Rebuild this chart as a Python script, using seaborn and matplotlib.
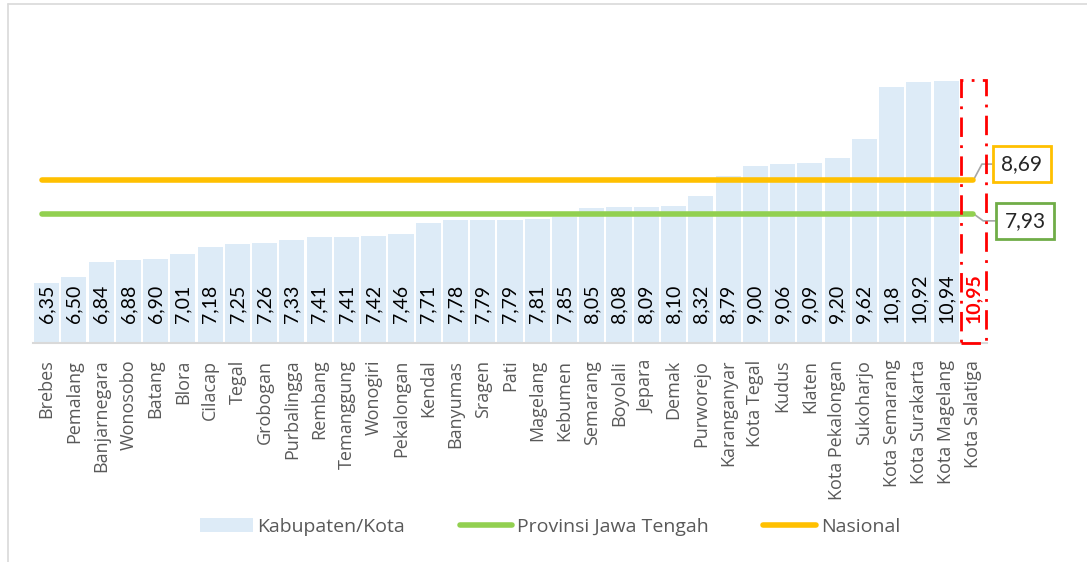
import matplotlib
matplotlib.use("Agg")
import matplotlib.pyplot as plt
from matplotlib.lines import Line2D
from matplotlib.patches import Patch, Rectangle
import numpy as np
import pandas as pd
import seaborn as sns

regions = ["Brebes", "Pemalang", "Banjarnegara", "Wonosobo", "Batang", "Blora",
           "Cilacap", "Tegal", "Grobogan", "Purbalingga", "Rembang", "Temanggung",
           "Wonogiri", "Pekalongan", "Kendal", "Banyumas", "Sragen", "Pati",
           "Magelang", "Kebumen", "Semarang", "Boyolali", "Jepara", "Demak",
           "Purworejo", "Karanganyar", "Kota Tegal", "Kudus", "Klaten",
           "Kota Pekalongan", "Sukoharjo", "Kota Semarang", "Kota Surakarta",
           "Kota Magelang", "Kota Salatiga"]
values = [6.35, 6.50, 6.84, 6.88, 6.90, 7.01, 7.18, 7.25, 7.26, 7.33, 7.41, 7.41,
          7.42, 7.46, 7.71, 7.78, 7.79, 7.79, 7.81, 7.85, 8.05, 8.08, 8.09, 8.10,
          8.32, 8.79, 9.00, 9.06, 9.09, 9.20, 9.62, 10.8, 10.92, 10.94, 10.95]
value_labels = ["6,35", "6,50", "6,84", "6,88", "6,90", "7,01", "7,18", "7,25",
                "7,26", "7,33", "7,41", "7,41", "7,42", "7,46", "7,71", "7,78",
                "7,79", "7,79", "7,81", "7,85", "8,05", "8,08", "8,09", "8,10",
                "8,32", "8,79", "9,00", "9,06", "9,09", "9,20", "9,62", "10,8",
                "10,92", "10,94", "10,95"]
highlight = "Kota Salatiga"
provinsi = 7.93
nasional = 8.69

bar_col = "#DDEBF7"
green = "#92D050"
yellow = "#FFC000"
txt_grey = "#595959"

sns.set_style("white")
plt.rcParams["font.family"] = ["Open Sans", "DejaVu Sans"]

df = pd.DataFrame({"wilayah": regions, "nilai": values})

fig = plt.figure(figsize=(10.87, 5.62), dpi=100)
ax = fig.add_axes([33 / 1087, 1 - 343 / 562, 954 / 1087, 278 / 562])

sns.barplot(data=df, x="wilayah", y="nilai", order=regions, color=bar_col,
            saturation=1, width=0.92, ax=ax)
for p in ax.patches:
    p.set_edgecolor("none")
hi = regions.index(highlight)
ax.patches[hi].set_alpha(0)

ax.set_ylim(5, 11.3)
ax.set_xlim(-0.5, len(regions) - 0.5)

# value labels inside the bars
for i, lab in enumerate(value_labels):
    if regions[i] == highlight:
        ax.text(i, 5.45, lab, rotation=90, ha="center", va="bottom",
                fontsize=14, color="red", fontweight="bold", family="Lato")
    else:
        ax.text(i, 5.45, lab, rotation=90, ha="center", va="bottom",
                fontsize=14, color="black", family="Lato")

# red dash-dot box around the highlighted region
ax.add_patch(Rectangle((hi - 0.47, 5), 0.94, values[hi] - 5, fill=False,
                       edgecolor="red", linewidth=2, linestyle=(0, (7, 3, 1, 3)),
                       clip_on=False, zorder=5))

# reference lines
ax.hlines(nasional, -0.17, hi, color=yellow, linewidth=4, capstyle="round", zorder=4)
ax.hlines(provinsi, -0.17, hi, color=green, linewidth=4, capstyle="round", zorder=4)

ax.annotate(f"{nasional:.2f}".replace(".", ","), xy=(hi, nasional),
            xytext=(0.940, 0.708), textcoords="figure fraction",
            ha="center", va="center", fontsize=15, family="Lato",
            bbox=dict(boxstyle="square,pad=0.4", fc="white", ec=yellow, lw=2),
            arrowprops=dict(arrowstyle="-", color="#A6A6A6", lw=1.2, shrinkA=0,
                            shrinkB=0, relpos=(0, 0.5),
                            connectionstyle="angle,angleA=0,angleB=62,rad=0"))
ax.annotate(f"{provinsi:.2f}".replace(".", ","), xy=(hi, provinsi),
            xytext=(0.943, 0.607), textcoords="figure fraction",
            ha="center", va="center", fontsize=15, family="Lato",
            bbox=dict(boxstyle="square,pad=0.4", fc="white", ec="#70AD47", lw=2),
            arrowprops=dict(arrowstyle="-", color="#A6A6A6", lw=1.2, shrinkA=0,
                            shrinkB=0, relpos=(0, 0.5),
                            connectionstyle="angle,angleA=0,angleB=-36,rad=0"))

ax.set_xlabel("")
ax.set_ylabel("")
ax.set_yticks([])
ax.tick_params(axis="x", length=0, pad=12, labelsize=13, labelcolor=txt_grey)
plt.setp(ax.get_xticklabels(), rotation=90, ha="center", va="top")
sns.despine(ax=ax, left=True, top=True, right=True)
ax.spines["bottom"].set_color("#D9D9D9")
ax.spines["bottom"].set_linewidth(1.5)

handles = [Patch(facecolor=bar_col, edgecolor="none"),
           Line2D([], [], color=green, lw=4, solid_capstyle="round"),
           Line2D([], [], color=yellow, lw=4, solid_capstyle="round")]
leg = fig.legend(handles, ["Kabupaten/Kota", "Provinsi Jawa Tengah", "Nasional"],
                 loc="center", bbox_to_anchor=(0.506, 0.063), ncol=3, frameon=False,
                 fontsize=14, handlelength=2.7, handletextpad=0.25, columnspacing=2.8)
for t in leg.get_texts():
    t.set_color(txt_grey)

# light frame of the chart area
fig.add_artist(Line2D([8 / 1087, 8 / 1087], [0, 0.992], color="#D9D9D9",
                      lw=1.2, transform=fig.transFigure))
fig.add_artist(Line2D([8 / 1087, 1], [0.992, 0.992], color="#D9D9D9",
                      lw=1.2, transform=fig.transFigure))

fig.savefig("out.png", dpi=100)
